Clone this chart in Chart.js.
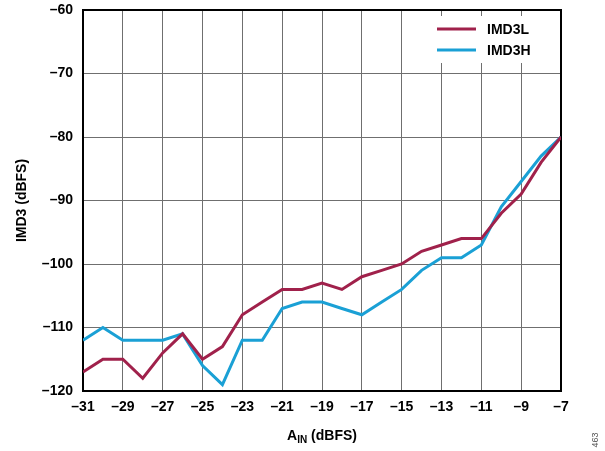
<!DOCTYPE html>
<html>
<head>
<meta charset="utf-8">
<script src="https://cdn.jsdelivr.net/npm/chart.js@4/dist/chart.umd.min.js"></script>
<style>
  html, body { margin: 0; padding: 0; background: #fff; }
  #wrap { width: 605px; height: 451px; position: relative; }
</style>
</head>
<body>
<div id="wrap"><canvas id="canvas" width="605" height="451"></canvas></div>
<script>
// entrada en dBFS, de -31 a -7
var ain = [-31, -30, -29, -28, -27, -26, -25, -24, -23, -22, -21, -20, -19,
           -18, -17, -16, -15, -14, -13, -12, -11, -10, -9, -8, -7];
var imd3L = [-117, -115, -115, -118, -114, -111, -115, -113, -108, -106, -104, -104, -103,
             -104, -102, -101, -100, -98, -97, -96, -96, -92, -89, -84, -80];
var imd3H = [-112, -110, -112, -112, -112, -111, -116, -119, -112, -112, -107, -106, -106,
             -107, -108, -106, -104, -101, -99, -99, -97, -91, -87, -83, -80];
var xTicks = [-31, -29, -27, -25, -23, -21, -19, -17, -15, -13, -11, -9, -7];
var yTicks = [-120, -110, -100, -90, -80, -70, -60];

var ROJO = '#A0214B';
var AZUL = '#1AA0D5';
var FUENTE = 'Arial, "Liberation Sans", sans-serif';

function menos(v) {
  return v < 0 ? '\u2013' + Math.abs(v) : String(v);
}

function puntos(ys) {
  return ain.map(function (x, i) { return { x: x, y: ys[i] }; });
}

// sin relleno extra por las etiquetas: el área la fija layout.padding
function sinRelleno(s) {
  s.paddingTop = 0;
  s.paddingBottom = 0;
  s.paddingLeft = 0;
  s.paddingRight = 0;
}

// leyenda, títulos de ejes y número de figura
var extras = {
  id: 'extras',
  afterDatasetsDraw: function (chart) {
    var ctx = chart.ctx;
    var area = chart.chartArea;
    ctx.save();
    // leyenda con fondo blanco
    ctx.fillStyle = '#fff';
    ctx.fillRect(426, 16, 133, 47);
    chart.data.datasets.forEach(function (ds, i) {
      var y = 29 + i * 21;
      ctx.strokeStyle = ds.borderColor;
      ctx.lineWidth = 3;
      ctx.beginPath();
      ctx.moveTo(437, y);
      ctx.lineTo(476, y);
      ctx.stroke();
      ctx.fillStyle = '#000';
      ctx.font = 'bold 14px ' + FUENTE;
      ctx.textAlign = 'left';
      ctx.textBaseline = 'middle';
      ctx.fillText(ds.label, 487, y + 1);
    });

    // título eje Y
    ctx.fillStyle = '#000';
    ctx.font = 'bold 14px ' + FUENTE;
    ctx.translate(22, (area.top + area.bottom) / 2);
    ctx.rotate(-Math.PI / 2);
    ctx.textAlign = 'center';
    ctx.textBaseline = 'middle';
    ctx.fillText('IMD3 (dBFS)', 0, 0);
    ctx.restore();

    // título eje X con subíndice
    ctx.save();
    ctx.fillStyle = '#000';
    ctx.textBaseline = 'alphabetic';
    ctx.textAlign = 'left';
    var big = 'bold 14px ' + FUENTE;
    var small = 'bold 10px ' + FUENTE;
    ctx.font = big;
    var wA = ctx.measureText('A').width;
    var wRest = ctx.measureText(' (dBFS)').width;
    ctx.font = small;
    var wSub = ctx.measureText('IN').width;
    var total = wA + wSub + wRest;
    var x0 = 322 - total / 2;
    var base = 440;
    ctx.font = big;
    ctx.fillText('A', x0, base);
    ctx.font = small;
    ctx.fillText('IN', x0 + wA, base + 3);
    ctx.font = big;
    ctx.fillText(' (dBFS)', x0 + wA + wSub, base);

    // número de figura
    ctx.fillStyle = '#555';
    ctx.font = '9px ' + FUENTE;
    ctx.translate(596, 440);
    ctx.rotate(-Math.PI / 2);
    ctx.textAlign = 'center';
    ctx.textBaseline = 'middle';
    ctx.fillText('463', 0, 0);
    ctx.restore();
  }
};

var ctx = document.getElementById('canvas').getContext('2d');
window.grafica = new Chart(ctx, {
  type: 'line',
  data: {
    datasets: [
      { label: 'IMD3L', data: puntos(imd3L), borderColor: ROJO, borderWidth: 3,
        pointRadius: 0, tension: 0, fill: false },
      { label: 'IMD3H', data: puntos(imd3H), borderColor: AZUL, borderWidth: 3,
        pointRadius: 0, tension: 0, fill: false }
    ]
  },
  options: {
    responsive: false,
    animation: false,
    events: [],
    layout: { padding: { left: 0, right: 44, top: 10, bottom: 0 } },
    plugins: {
      legend: { display: false },
      tooltip: { enabled: false }
    },
    scales: {
      x: {
        type: 'linear',
        min: -31,
        max: -7,
        afterFit: function (s) { s.height = 60; sinRelleno(s); },
        afterBuildTicks: function (s) {
          s.ticks = xTicks.map(function (v) { return { value: v }; });
        },
        ticks: {
          color: '#000',
          padding: 8,
          maxRotation: 0,
          autoSkip: false,
          font: { family: FUENTE, size: 14, weight: 'bold' },
          callback: function (v) { return menos(v); }
        },
        grid: { color: '#6f6f6f', lineWidth: 1, drawTicks: false },
        border: { color: '#000', width: 2 }
      },
      y: {
        type: 'linear',
        min: -120,
        max: -60,
        afterFit: function (s) { s.width = 83; sinRelleno(s); },
        afterBuildTicks: function (s) {
          s.ticks = yTicks.map(function (v) { return { value: v }; });
        },
        ticks: {
          color: '#000',
          padding: 10,
          autoSkip: false,
          font: { family: FUENTE, size: 14, weight: 'bold' },
          callback: function (v) { return menos(v); }
        },
        grid: { color: '#6f6f6f', lineWidth: 1, drawTicks: false },
        border: { color: '#000', width: 2 }
      },
      x2: {
        type: 'linear', position: 'top', min: -31, max: -7,
        display: true, afterFit: function (s) { s.height = 0; sinRelleno(s); },
        ticks: { display: false }, grid: { display: false },
        border: { color: '#000', width: 2 }
      },
      y2: {
        type: 'linear', position: 'right', min: -120, max: -60,
        display: true, afterFit: function (s) { s.width = 0; sinRelleno(s); },
        ticks: { display: false }, grid: { display: false },
        border: { color: '#000', width: 2 }
      }
    }
  },
  plugins: [extras]
});
</script>
</body>
</html>
